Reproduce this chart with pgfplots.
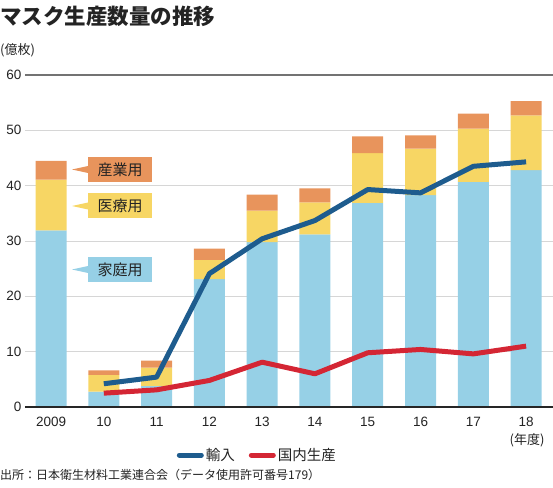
\documentclass[border=0pt]{standalone}
\usepackage{pgfplots}
\pgfplotsset{compat=1.18}
\usepackage{fontspec}
\setmainfont{Liberation Sans}
\newfontfamily\cjk{Noto Sans CJK JP}
\definecolor{homeblue}{RGB}{150,208,230}
\definecolor{medyellow}{RGB}{247,214,100}
\definecolor{indorange}{RGB}{232,148,92}
\definecolor{impblue}{RGB}{30,92,142}
\definecolor{domred}{RGB}{212,38,52}
\definecolor{txt}{RGB}{35,35,35}
\begin{document}
\begin{tikzpicture}
\useasboundingbox (0pt,0pt) rectangle (553pt,487pt);
\begin{axis}[
  at={(25pt,80pt)}, anchor=south west,
  scale only axis, width=528pt, height=332pt,
  xmin=-0.493, xmax=9.51, ymin=0, ymax=60,
  ybar stacked, bar width=31pt,
  reverse stacked plots=false,
  axis line style={draw=none},
  xtick={0,...,9}, xticklabels={2009,10,11,12,13,14,15,16,17,18},
  xticklabel style={yshift=-7pt},
  ytick={0,10,20,30,40,50,60},
  major tick length=0pt,
  ymajorgrids, grid style={draw=black!16, line width=0.8pt},
  tick label style={font=\fontsize{13.5}{15}\selectfont, text=txt},
  /pgf/number format/assume math mode=true,
  clip=false,
  legend style={draw=none, fill=none, at={(axis description cs:0.44,-0.145)}, anchor=center,
    font=\cjk\fontsize{14.5}{16}\selectfont, text=txt,
    /tikz/every even column/.append style={column sep=12pt}},
  legend columns=2,
  legend image code/.code={\draw[#1, line cap=round] (0pt,0pt) -- (22pt,0pt);},
]
\addplot[fill=homeblue, draw=none, forget plot] coordinates {(0,31.9) (1,2.8) (2,3.8) (3,23.1) (4,29.8) (5,31.2) (6,36.9) (7,38.3) (8,40.7) (9,42.8)};
\addplot[fill=medyellow, draw=none, forget plot] coordinates {(0,9.2) (1,3.0) (2,3.3) (3,3.5) (4,5.7) (5,5.8) (6,9.0) (7,8.4) (8,9.6) (9,9.9)};
\addplot[fill=indorange, draw=none, forget plot] coordinates {(0,3.4) (1,0.8) (2,1.3) (3,2.0) (4,2.9) (5,2.5) (6,3.0) (7,2.4) (8,2.7) (9,2.6)};
\addplot[stack plots=false, sharp plot, mark=none, draw=impblue, line width=5pt, line join=round] coordinates {(1,4.2) (2,5.4) (3,24.1) (4,30.4) (5,33.7) (6,39.3) (7,38.7) (8,43.5) (9,44.3)};
\addlegendentry{輸入}
\addplot[stack plots=false, sharp plot, mark=none, draw=domred, line width=5pt, line join=round] coordinates {(1,2.5) (2,3.1) (3,4.8) (4,8.1) (5,6.0) (6,9.8) (7,10.4) (8,9.6) (9,11.0)};
\addlegendentry{国内生産}
\draw[black!55, line width=1.5pt] (axis cs:-0.493,60) -- (axis cs:9.51,60);
\draw[black!85, line width=1.3pt] (axis cs:-0.493,0) -- (axis cs:9.51,0);
\end{axis}
% callouts
\fill[indorange] (72pt,317.5pt) -- (88pt,321pt) -- (88pt,314pt) -- cycle;
\node[fill=indorange, minimum width=64pt, minimum height=25pt, inner sep=0pt, text=txt, font=\cjk\fontsize{15}{16}\selectfont] at (120pt,317.5pt) {産業用};
\fill[medyellow] (72pt,281pt) -- (88pt,284.5pt) -- (88pt,277.5pt) -- cycle;
\node[fill=medyellow, minimum width=64pt, minimum height=25pt, inner sep=0pt, text=txt, font=\cjk\fontsize{15}{16}\selectfont] at (120pt,281pt) {医療用};
\fill[homeblue] (72pt,217.5pt) -- (88pt,221pt) -- (88pt,214pt) -- cycle;
\node[fill=homeblue, minimum width=64pt, minimum height=25pt, inner sep=0pt, text=txt, font=\cjk\fontsize{15}{16}\selectfont] at (120pt,217.5pt) {家庭用};
% titles and notes
\node[anchor=west, inner sep=0pt, text=txt, font=\cjk\bfseries\fontsize{21.5}{23}\selectfont] at (0pt,471pt) {マスク生産数量の推移};
\node[anchor=west, inner sep=0pt, text=txt, font=\cjk\fontsize{13}{14}\selectfont] at (0pt,437pt) {(億枚)};
\node[anchor=center, inner sep=0pt, text=txt, font=\cjk\fontsize{13}{14}\selectfont] at (527pt,47pt) {(年度)};
\node[anchor=west, inner sep=0pt, text=txt, font=\cjk\fontsize{12}{13}\selectfont] at (0pt,12pt) {出所：日本衛生材料工業連合会（データ使用許可番号179）};
\end{tikzpicture}
\end{document}
